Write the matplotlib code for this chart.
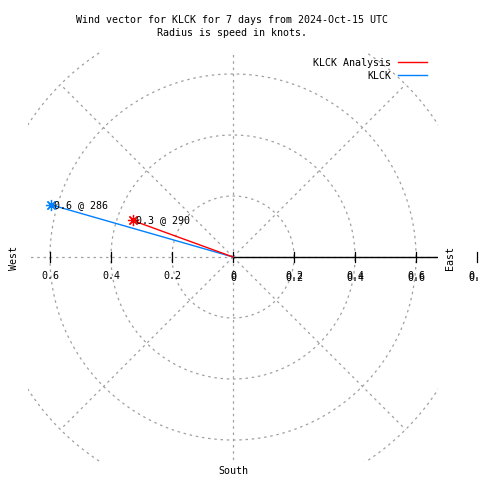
import numpy as np
import matplotlib
matplotlib.use("Agg")
import matplotlib.pyplot as plt
from matplotlib.lines import Line2D

# ---- data ----
series_names = ["KLCK Analysis", "KLCK"]
speeds = [0.35, 0.62]          # knots
directions = [290, 286]        # degrees (compass)
series_colors = ["#ff0000", "#0080ff"]
ring_radii = [0.2, 0.4, 0.6, 0.8]
ray_angles = [0, 45, 90, 135, 180, 225, 270, 315]
left_ticks = [0.6, 0.4, 0.2]
right_ticks = [0.2, 0.4, 0.6, 0.8]
title_lines = ["Wind vector for KLCK for 7 days from 2024-Oct-15 UTC",
               "Radius is speed in knots."]

FONT = "DejaVu Sans Mono"
FS = 7.2
W = H = 480
fig = plt.figure(figsize=(4.8, 4.8), dpi=100)

def fx(px):
    return px / W

def fy(py):
    return 1 - py / H

lim = 0.672
ax = fig.add_axes([fx(28), fy(462), fx(410), 410 / H])
ax.set_xlim(-lim, lim)
ax.set_ylim(-lim, lim)
ax.set_aspect("auto")
ax.axis("off")

grid_kw = dict(color="#a0a0a0", lw=0.9, ls=(0, (2, 3)))
th = np.linspace(0, 2 * np.pi, 721)
for r in ring_radii:
    ax.plot(r * np.cos(th), r * np.sin(th), **grid_kw)
for a in ray_angles:
    rad = np.deg2rad(a)
    ax.plot([0, 0.8 * np.cos(rad)], [0, 0.8 * np.sin(rad)], **grid_kw)

# solid radial axis to the east
ax.plot([0, lim], [0, 0], color="black", lw=1.0)

# ticks
tick_h = 5 * (2 * lim / 410)
for t in [-v for v in left_ticks] + [0] + right_ticks:
    ax.plot([t, t], [-tick_h, tick_h], color="black", lw=0.9, clip_on=False)

def tick_label(x, s, dy=0.0):
    ax.text(x, -0.063 + dy, s, ha="center", va="center", fontsize=FS,
            family=FONT, clip_on=False)

for t in left_ticks:
    tick_label(-t, f"{t:.1f}")
tick_label(0, "0")
tick_label(0, "0", dy=-0.006)
for t in right_ticks:
    tick_label(t, f"{t:.1f}")
    tick_label(t, f"{t:.1f}", dy=-0.006)

# wind vectors
for name, sp, d, c in zip(series_names[::-1], speeds[::-1], directions[::-1],
                          series_colors[::-1]):
    rad = np.deg2rad(d)
    x, y = sp * np.sin(rad), sp * np.cos(rad)
    ax.plot([0, x], [0, y], color=c, lw=1.0)
    ax.plot([x], [y], marker=(8, 2, 0), color=c, ms=8, mew=0.9)
    ax.text(x + 0.01, y, f"{sp:.1f} @ {d}", fontsize=FS, family=FONT,
            ha="left", va="center")

# compass labels
fig.text(fx(14), fy(258), "West", rotation=90, ha="center", va="center",
         fontsize=FS, family=FONT)
fig.text(fx(450), fy(258), "East", rotation=90, ha="center", va="center",
         fontsize=FS, family=FONT)
fig.text(fx(233), fy(471), "South", ha="center", va="center",
         fontsize=FS, family=FONT)

# titles
fig.text(fx(232), fy(20), title_lines[0], ha="center", va="center",
         fontsize=FS, family=FONT)
fig.text(fx(232), fy(33), title_lines[1], ha="center", va="center",
         fontsize=FS, family=FONT)

# legend
for i, (name, c) in enumerate(zip(series_names, series_colors)):
    yy = 63 + 13 * i
    fig.text(fx(391), fy(yy), name, ha="right", va="center",
             fontsize=FS, family=FONT)
    fig.add_artist(Line2D([fx(398), fx(427)], [fy(yy - 1), fy(yy - 1)],
                          color=c, lw=1.0, transform=fig.transFigure))

fig.savefig("out.png", dpi=100)
